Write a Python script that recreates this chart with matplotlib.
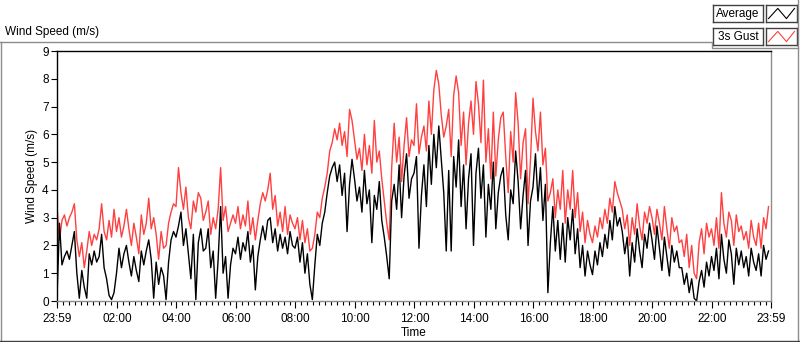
import matplotlib

matplotlib.use("Agg")
import matplotlib.pyplot as plt
from matplotlib.lines import Line2D
import numpy as np

plt.rcParams["font.family"] = ["Liberation Sans", "DejaVu Sans"]
plt.rcParams["font.size"] = 8

# 5-minute samples starting 23:59, one row per hour
average = [
    0.1, 2.8, 1.3, 1.6, 1.8, 1.5, 2.0, 2.5, 1.0, 0.1, 1.1, 0.5,
    0.1, 1.7, 1.3, 1.8, 1.4, 1.6, 2.4, 1.2, 0.8, 0.2, 0.05, 0.3,
    1.0, 1.9, 1.2, 1.7, 2.0, 1.4, 0.9, 1.6, 1.1, 0.7, 1.8, 1.3,
    1.8, 2.2, 1.5, 0.1, 1.4, 0.6, 1.2, 0.9, 0.05, 1.4, 2.2, 2.5,
    2.3, 2.7, 3.2, 2.0, 2.6, 1.7, 0.8, 2.4, 0.05, 2.1, 2.6, 1.8,
    1.9, 2.6, 1.2, 1.8, 0.1, 1.5, 3.4, 1.0, 1.6, 0.1, 1.3, 1.9,
    1.7, 2.3, 1.5, 2.1, 1.8, 2.5, 1.4, 2.0, 0.4, 1.6, 2.2, 2.7,
    2.2, 2.9, 3.0, 2.1, 2.6, 1.8, 2.4, 1.9, 2.3, 1.7, 2.5, 2.0,
    1.9, 2.3, 1.4, 2.1, 1.0, 1.7, 0.6, 0.05, 1.3, 2.4, 2.0, 2.8,
    3.2, 3.9, 4.5, 4.8, 5.0, 4.3, 4.9, 3.8, 4.6, 2.5, 4.2, 5.1,
    4.4, 3.6, 4.1, 3.2, 4.7, 3.5, 4.0, 2.1, 3.8, 3.3, 4.3, 2.9,
    2.3, 1.6, 0.8, 3.6, 4.2, 3.3, 4.9, 3.0, 4.5, 5.3, 3.7, 4.4,
    4.6, 5.2, 1.9, 3.8, 4.9, 3.4, 5.6, 4.2, 6.0, 4.8, 6.3, 5.1,
    3.9, 1.8, 4.7, 1.8, 5.2, 4.1, 5.8, 3.4, 4.9, 2.6, 4.4, 5.3,
    2.0, 4.6, 5.5, 3.7, 4.9, 2.3, 4.2, 3.3, 5.0, 2.6, 3.9, 4.5,
    4.8, 3.1, 2.2, 4.0, 3.5, 5.4, 4.3, 2.6, 3.8, 4.7, 2.0, 3.6,
    4.1, 5.3, 3.6, 4.8, 2.9, 4.2, 0.3, 2.1, 3.4, 1.8, 2.9, 1.5,
    2.8, 1.4, 3.0, 2.2, 3.3, 1.7, 2.6, 1.2, 2.0, 0.9, 1.8, 1.3,
    0.95, 1.8, 1.3, 2.1, 1.6, 2.4, 1.9, 2.9, 2.2, 3.4, 2.7, 3.0,
    2.5, 1.7, 2.3, 0.9, 2.1, 1.4, 2.6, 1.8, 1.2, 2.4, 1.9, 2.8,
    2.2, 1.5, 2.7, 1.9, 1.1, 2.3, 1.6, 0.9, 2.0, 1.4, 1.8, 1.2,
    1.2, 0.6, 1.0, 0.3, 0.8, 0.1, 0.0, 0.7, 1.1, 0.5, 1.4, 0.9,
    1.6, 1.1, 1.9, 0.8, 2.4, 1.5, 1.0, 2.2, 1.7, 0.6, 1.9, 1.3,
    1.8, 1.2, 1.6, 0.9, 1.9, 1.4, 1.1, 1.7, 0.9, 2.0, 1.5, 1.8,
]
gust = [
    3.4, 2.2, 2.9, 3.1, 2.7, 3.0, 3.2, 3.5, 2.2, 1.6, 2.1, 1.2,
    1.8, 2.5, 2.0, 2.4, 2.2, 2.6, 3.5, 2.5, 2.2, 2.9, 2.3, 3.3,
    2.5, 3.0, 2.3, 2.7, 3.3, 2.6, 2.0, 2.8, 2.3, 1.7, 3.1, 2.4,
    2.8, 3.7, 2.6, 3.0, 2.4, 1.5, 2.5, 1.9, 2.0, 2.8, 3.2, 3.5,
    3.4, 4.8, 3.9, 3.3, 4.1, 3.0, 2.6, 3.6, 3.2, 3.9, 3.7, 2.9,
    3.2, 3.6, 2.4, 3.0, 2.6, 3.3, 4.8, 2.9, 3.4, 2.5, 2.8, 3.1,
    2.8, 3.4, 2.6, 3.1, 2.7, 3.6, 2.4, 3.0, 2.2, 2.9, 3.5, 3.9,
    3.6, 4.0, 4.6, 3.3, 3.8, 2.7, 3.2, 2.5, 3.4, 2.4, 3.1, 2.8,
    2.6, 3.0, 2.2, 2.9, 2.1, 2.6, 1.8, 1.9, 2.4, 3.2, 3.0, 3.7,
    4.1, 4.6, 5.4, 5.7, 6.2, 5.8, 6.4, 5.6, 6.1, 5.2, 6.9, 6.5,
    5.8, 5.1, 5.5, 4.7, 6.0, 4.9, 5.6, 4.6, 6.5, 5.0, 5.4, 4.4,
    3.6, 2.8, 2.2, 4.8, 6.4, 5.0, 5.9, 4.3, 5.6, 6.6, 5.2, 5.8,
    5.6, 7.1, 5.3, 5.9, 6.3, 5.4, 7.2, 6.0, 7.6, 8.3, 7.8, 6.7,
    5.9, 6.3, 6.9, 5.2, 7.4, 8.1, 7.5, 5.6, 6.8, 4.9, 6.4, 7.2,
    6.0, 7.9, 7.1, 5.7, 7.95, 5.0, 6.2, 4.4, 6.8, 4.5, 5.8, 6.6,
    6.8, 5.2, 3.9, 6.1, 5.0, 7.5, 6.4, 4.4, 5.7, 6.2, 3.5, 5.1,
    7.3, 6.1, 5.4, 6.8, 4.9, 5.5, 3.6, 3.9, 4.4, 3.0, 4.0, 3.3,
    4.7, 2.8, 4.0, 3.3, 4.7, 3.0, 3.9, 2.5, 3.2, 2.1, 2.9, 2.4,
    2.1, 2.7, 2.3, 3.0, 2.6, 3.3, 2.8, 3.7, 3.2, 4.3, 3.9, 3.6,
    3.3, 2.6, 3.1, 2.0, 3.0, 2.4, 3.5, 2.7, 2.2, 3.2, 2.8, 3.4,
    3.0, 2.4, 3.3, 2.8, 2.2, 3.4, 2.6, 1.9, 3.0, 2.5, 2.7, 2.1,
    2.2, 1.6, 2.4, 1.2, 2.0, 1.0, 0.8, 2.1, 2.6, 1.7, 2.8, 2.3,
    2.6, 2.0, 3.0, 1.9, 3.9, 2.8, 2.3, 3.2, 2.9, 2.0, 3.1, 2.5,
    2.7, 2.2, 2.5, 1.9, 2.9, 2.3, 2.0, 2.8, 1.9, 3.0, 2.6, 3.4,
]
sample_minutes = 5
tick_labels = ["23:59", "02:00", "04:00", "06:00", "08:00", "10:00", "12:00",
               "14:00", "16:00", "18:00", "20:00", "22:00", "23:59"]
tick_minutes = [0, 121, 241, 361, 481, 601, 721, 841, 961, 1081, 1201, 1321, 1440]

W, H = 800, 342
fig = plt.figure(figsize=(W / 100, H / 100), dpi=100)
fig.patch.set_facecolor("white")


def px(x0, y0, x1, y1):
    # rectangle in pixel coords (top-left origin) -> figure fraction
    return [x0 / W, 1 - y1 / H, (x1 - x0) / W, (y1 - y0) / H]


def frame_line(xs, ys, color="#8c8c8c", lw=1.0):
    fig.add_artist(Line2D([x / W for x in xs], [1 - y / H for y in ys],
                          color=color, lw=lw, transform=fig.transFigure))


ax = fig.add_axes(px(57, 51, 771, 301))
t = np.arange(len(average)) * sample_minutes
ax.plot(t, gust, color="#ff4040", lw=1.0)
ax.plot(t, average, color="black", lw=1.0)

ax.set_xlim(0, 1440)
ax.set_ylim(0, 9)
ax.set_yticks(range(10))
ax.set_xticks(tick_minutes)
ax.set_xticklabels(tick_labels)
ax.set_xticks(np.arange(1, 1440, 12), minor=True)
ax.tick_params(axis="both", direction="out", colors="black", labelsize=8.5)
ax.tick_params(axis="x", which="major", length=5, width=0.8, pad=4)
ax.tick_params(axis="x", which="minor", length=3, width=0.8)
ax.tick_params(axis="y", which="major", length=4, width=0.8, pad=2)
ax.spines["left"].set_color("black")
ax.spines["top"].set_color("black")
ax.spines["right"].set_color("#8c8c8c")
ax.spines["bottom"].set_color("#8c8c8c")
for s in ax.spines.values():
    s.set_linewidth(1.0)
ax.set_xlabel("Time", labelpad=1, fontsize=8.5)
ax.set_ylabel("Wind Speed (m/s)", labelpad=3, fontsize=8.5)

fig.text(5 / W, 1 - 32 / H, "Wind Speed (m/s)", ha="left", va="center", fontsize=8.5)

# panel frame
frame_line([1, 1], [42, 342])
frame_line([0, 712, 712, 798], [42, 42, 48, 48])
frame_line([798, 798], [0, 342])
frame_line([0, 800], [341, 341], color="#404040")

# legend
icon_x = [0.08, 0.38, 0.66, 0.92]
icon_y = [0.2, 0.8, 0.2, 0.8]
for (y0, label, color) in [(5, "Average", "black"), (28, "3s Gust", "#ff4040")]:
    tb = fig.add_axes(px(713, y0, 763, y0 + 17))
    tb.set_xticks([])
    tb.set_yticks([])
    tb.text(0.5, 0.48, label, ha="center", va="center", fontsize=8.5)
    ib = fig.add_axes(px(766, y0, 797, y0 + 17))
    ib.set_xticks([])
    ib.set_yticks([])
    ib.set_xlim(0, 1)
    ib.set_ylim(0, 1)
    ib.plot(icon_x, icon_y, color=color, lw=0.8)
    for b in (tb, ib):
        for s in b.spines.values():
            s.set_color("#404040")
            s.set_linewidth(1.0)

fig.savefig("out.png", dpi=100)
